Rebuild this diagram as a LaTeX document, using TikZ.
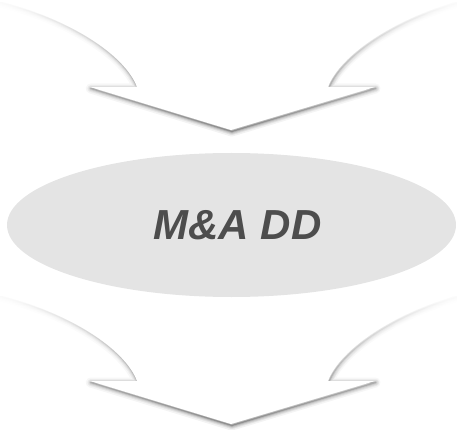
\documentclass[tikz,border=0pt]{standalone}
\usepackage{fontspec}
\setmainfont{Liberation Sans}
\usetikzlibrary{shapes,fadings}
\definecolor{ddgray}{HTML}{E4E4E4}
\definecolor{ddtext}{HTML}{4D4D4D}
\tikzstyle{ov}=[ellipse,fill=ddgray,minimum width=449pt,minimum height=144pt,inner sep=0pt]
\tikzstyle{glow}=[line join=round,line cap=round,draw=black,path fading=north]

\begin{document}
\begin{tikzpicture}[x=1pt,y=-1pt]
\useasboundingbox (0,0) rectangle (457,430);
% the two funnel arrows
\foreach \dy in {0,294} {
\begin{scope}[yshift=-\dy pt]
\foreach \w/\o in {10/0.05,7/0.07,5/0.09,3/0.13,1.2/0.22}
  \draw[glow,line width=\w pt,opacity=\o,shift={(1,1.5)}] (-5,0) .. controls (70,18) and (125,55) .. (137,87) -- (90,87) -- (231,130) -- (375,87) -- (328,87) .. controls (340,55) and (395,18) .. (462,0);
\fill[white] (-5,0) .. controls (70,18) and (125,55) .. (137,87) -- (90,87) -- (231,130) -- (375,87) -- (328,87) .. controls (340,55) and (395,18) .. (462,0) -- (462,-10) -- (-5,-10) -- cycle;
\end{scope}
}
\node[ov] (mna) at (231.5,225) {\hspace*{12pt}\fontsize{42}{48}\selectfont\bfseries\itshape\color{ddtext}M\&A DD};
\end{tikzpicture}
\end{document}
